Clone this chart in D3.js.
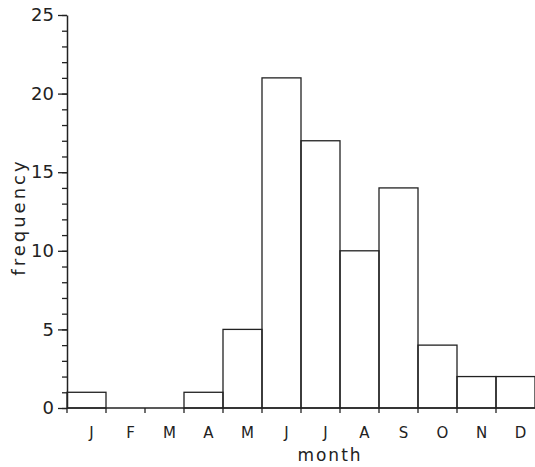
<!DOCTYPE html>
<html>
<head>
<meta charset="utf-8">
<script src="https://cdn.jsdelivr.net/npm/d3@7"></script>
<style>
  body { margin: 0; background: #fff; }
  text { font-family: "DejaVu Sans", "Liberation Sans", sans-serif; fill: #222; }
</style>
</head>
<body>
<svg class="histo" width="535" height="467"></svg>
<script>
var months = ["J", "F", "M", "A", "M", "J", "J", "A", "S", "O", "N", "D"];
var frequency = [1, 0, 0, 1, 5, 21, 17, 10, 14, 4, 2, 2];
var yTicks = [0, 5, 10, 15, 20, 25];

var svg = d3.select(".histo"),
  plotLeft = 67,
  plotRight = 535,
  plotTop = 15,
  plotBottom = 408;

var idx = d3.range(months.length);

var xScale = d3.scaleBand().domain(idx).range([plotLeft, plotRight]).padding(0),
  yScale = d3.scaleLinear().domain([0, 25]).range([plotBottom, plotTop]);

var ink = "#222";

// bars
svg.append("g")
  .selectAll("rect")
  .data(idx)
  .enter()
  .append("rect")
  .attr("x", (i) => xScale(i))
  .attr("y", (i) => yScale(frequency[i]))
  .attr("width", xScale.bandwidth())
  .attr("height", (i) => yScale(0) - yScale(frequency[i]))
  .attr("fill", "none")
  .attr("stroke", ink)
  .attr("stroke-width", 1.3);

// y axis: minor ticks each unit, major every 5
var yAxisMinor = d3.axisLeft(yScale).tickValues(d3.range(0, 26)).tickSize(5).tickFormat("");
svg.append("g")
  .attr("transform", "translate(" + plotLeft + ",0)")
  .call(yAxisMinor)
  .call((g) => g.select(".domain").remove())
  .selectAll("line").attr("stroke", ink).attr("stroke-width", 1.3);

svg.append("g")
  .attr("transform", "translate(" + plotLeft + ",0)")
  .call(d3.axisLeft(yScale).tickValues(yTicks).tickSize(9).tickPadding(4).tickSizeOuter(0))
  .call((g) => g.select(".domain").attr("stroke", ink).attr("stroke-width", 1.5))
  .call((g) => g.selectAll("line").attr("stroke", ink).attr("stroke-width", 1.3))
  .call((g) => g.selectAll("text").attr("font-size", 18).attr("fill", ink)
    .attr("font-family", "Liberation Sans, Arial, sans-serif"));

// x axis
var xTickPos = idx.map((i) => xScale(i));
svg.append("line")
  .attr("x1", plotLeft).attr("x2", plotRight)
  .attr("y1", plotBottom).attr("y2", plotBottom)
  .attr("stroke", ink).attr("stroke-width", 1.5);

svg.append("g")
  .selectAll("line")
  .data(xTickPos)
  .enter()
  .append("line")
  .attr("x1", (d) => d).attr("x2", (d) => d)
  .attr("y1", plotBottom).attr("y2", plotBottom + 5)
  .attr("stroke", ink).attr("stroke-width", 1.3);

svg.append("g")
  .selectAll("text")
  .data(idx)
  .enter()
  .append("text")
  .attr("x", (i) => xScale(i) + xScale.bandwidth() / 2 + 5)
  .attr("y", 438)
  .attr("text-anchor", "middle")
  .attr("font-size", 15)
  .attr("font-family", "Liberation Sans, Arial, sans-serif")
  .text((i) => months[i]);

// axis titles
svg.append("text")
  .attr("x", 330)
  .attr("y", 461)
  .attr("text-anchor", "middle")
  .attr("font-size", 17)
  .attr("letter-spacing", 2)
  .text("month");

svg.append("text")
  .attr("transform", "translate(25,217) rotate(-90)")
  .attr("text-anchor", "middle")
  .attr("font-size", 18)
  .attr("letter-spacing", 3)
  .text("frequency");
</script>
</body>
</html>
